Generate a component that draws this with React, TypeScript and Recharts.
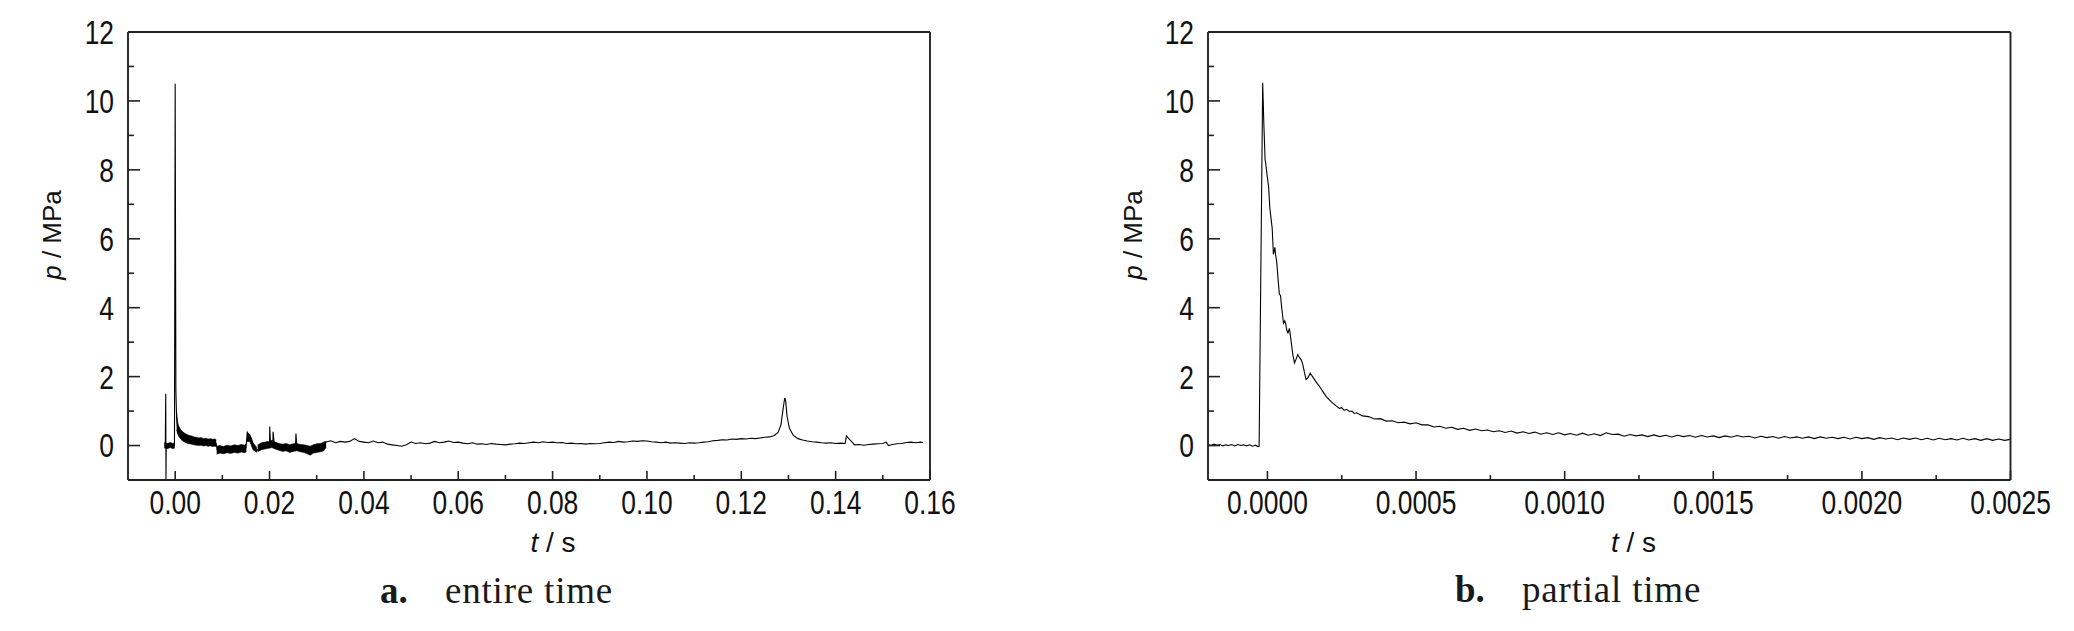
import React from "react";
import { ComposedChart, Line, Area, XAxis, YAxis } from "recharts";

// ---- panel a: entire time (time in ms, pressure in MPa) ----
const leftTimeMs = [
  -2.3, -2.1, -2.0, -1.95, -1.9, -1.5, -1.0, -0.5, -0.15, 0.0, 0.15, 0.3, 0.5, 0.8, 1.2, 2.0, 3.0, 4.5, 6.0, 7.5,
  8.7, 8.9, 10, 12, 14, 15.0, 15.3, 15.6, 16.0, 16.6, 17.3, 18.0, 19.0, 20.0, 20.05, 20.2, 20.7, 20.75, 21.0, 22,
  23, 24, 25.5, 25.6, 25.8, 27, 28.5, 29.5, 31, 32, 33, 34, 35, 36, 37, 38, 39, 40, 41, 42,
  43, 44, 45, 46, 47, 48, 49, 50, 51, 52, 53, 54, 55, 56, 57, 58, 59, 60, 61, 62,
  63, 64, 65, 66, 67, 68, 69, 70, 71, 72, 73, 74, 75, 76, 77, 78, 79, 80, 81, 82,
  83, 84, 85, 86, 87, 88, 89, 90, 91, 92, 93, 94, 95, 96, 97, 98, 99, 100, 101, 102,
  103, 104, 105, 106, 107, 108, 109, 110, 111, 112, 113, 114, 115, 116, 117, 118, 119, 120, 121, 122,
  123, 124, 125, 126, 127, 127.8, 128.4, 128.9, 129.2, 129.4, 129.7, 130.2, 131, 132, 133, 134, 135, 136, 137, 138,
  139, 140, 141, 142, 142.3, 142.8, 143.5, 144, 145, 146, 147, 148, 149, 150, 150.7, 151.2, 152, 153, 154, 155,
  156, 157, 158, 158.5,
];
const leftPressure = [
  0.0, 0.02, 1.5, -1.0, 0.0, 0.03, -0.02, 0.02, 0.0, 10.5, 1.6, 0.8, 0.55, 0.45, 0.36, 0.28, 0.2, 0.14, 0.1, 0.08,
  0.06, -0.12, -0.12, -0.1, -0.08, -0.05, 0.38, 0.3, 0.25, 0.0, -0.15, -0.05, 0.02, 0.0, 0.55, 0.05, 0.05, 0.4, 0.05, -0.05,
  0.0, -0.08, -0.05, 0.35, -0.05, -0.05, -0.15, -0.1, 0.0, 0.1, 0.14, 0.08, 0.12, 0.1, 0.12, 0.2, 0.12, 0.1, 0.08, 0.13,
  0.08, 0.1, 0.04, 0.02, 0.0, -0.02, 0.02, 0.1, 0.06, 0.08, 0.05, 0.07, 0.12, 0.08, 0.1, 0.13, 0.09, 0.1, 0.07, 0.05,
  0.08, 0.04, 0.05, 0.03, 0.06, 0.04, 0.03, 0.02, 0.04, 0.05, 0.07, 0.06, 0.08, 0.1, 0.08, 0.11, 0.09, 0.1, 0.08, 0.09,
  0.06, 0.07, 0.05, 0.06, 0.04, 0.06, 0.05, 0.06, 0.08, 0.1, 0.09, 0.12, 0.1, 0.11, 0.13, 0.12, 0.14, 0.13, 0.11, 0.1,
  0.08, 0.1, 0.07, 0.08, 0.07, 0.06, 0.08, 0.07, 0.08, 0.1, 0.11, 0.14, 0.15, 0.17, 0.16, 0.19, 0.18, 0.2, 0.19, 0.21,
  0.2, 0.22, 0.24, 0.25, 0.29, 0.38, 0.6, 1.1, 1.38, 1.3, 0.85, 0.5, 0.3, 0.2, 0.16, 0.13, 0.11, 0.1, 0.08, 0.07,
  0.08, 0.06, 0.07, 0.06, 0.28, 0.2, 0.1, 0.02, 0.03, 0.01, 0.03, 0.04, 0.05, 0.06, 0.1, 0.0, 0.03, 0.05, 0.06, 0.09,
  0.1, 0.08, 0.1, 0.09,
];
// noisy thick stretches, drawn as filled envelopes (null = break between stretches)
const leftBandMs = [
  -2.3, -1.7, -1.0, -0.5, -0.1, null,
  0.3, 0.5, 0.7, 1.0, 1.3, 1.6, 2.0, 2.5, 3.0, 3.5, 4.0, 4.5, 5.0, 5.5, 6.0, 6.5, 7.0, 7.5, 8.0, 8.4, 8.7, null,
  8.8, 9.5, 10.2, 11, 11.8, 12.5, 13.3, 14, 14.7, 15.1, null,
  15.2, 15.8, 16.5, 17.3, null,
  17.5, 18.3, 19, 19.8, 20.5, 21.2, 22, 22.8, 23.5, 24.3, 25, 25.8, 26.5, 27.3, 28, 28.6, 29.3, 30, 30.8, 31.5, 32,
];
const leftBandLo = [
  -0.07, -0.09, -0.06, -0.09, -0.07, null,
  0.45, 0.35, 0.28, 0.22, 0.17, 0.13, 0.1, 0.07, 0.05, 0.04, 0.02, 0.01, 0.0, 0.01, -0.01, 0.0, -0.02, -0.01, -0.03, -0.02, -0.03, null,
  -0.25, -0.22, -0.24, -0.21, -0.23, -0.2, -0.22, -0.19, -0.21, -0.18, null,
  0.12, 0.12, -0.12, -0.2, null,
  -0.18, -0.12, -0.1, -0.08, -0.06, -0.1, -0.14, -0.17, -0.15, -0.2, -0.17, -0.15, -0.18, -0.2, -0.24, -0.28, -0.22, -0.2, -0.18, -0.15, -0.05,
];
const leftBandHi = [
  0.08, 0.06, 0.09, 0.06, 0.08, null,
  1.0, 0.7, 0.58, 0.5, 0.44, 0.4, 0.36, 0.32, 0.29, 0.28, 0.25, 0.24, 0.22, 0.23, 0.2, 0.21, 0.19, 0.2, 0.18, 0.19, 0.17, null,
  -0.02, 0.0, -0.03, 0.01, -0.01, 0.02, 0.0, 0.03, 0.01, 0.05, null,
  0.38, 0.33, 0.08, -0.06, null,
  0.02, 0.08, 0.1, 0.12, 0.15, 0.1, 0.06, 0.04, 0.06, 0.02, 0.05, 0.06, 0.03, 0.02, 0.0, -0.02, 0.02, 0.05, 0.06, 0.1, 0.12,
];

const leftXMajor = [0, 0.02, 0.04, 0.06, 0.08, 0.1, 0.12, 0.14, 0.16];
const leftXMinor = [0.01, 0.03, 0.05, 0.07, 0.09, 0.11, 0.13, 0.15];

// ---- panel b: partial time (time in µs, pressure in MPa) ----
const rightTimeUs = [
  -200, -190, -180, -170, -160, -150, -140, -130, -120, -110, -100, -90, -80, -70, -60, -50, -40, -32, -28,
  -16, -12, -8, -6, -2, 4, 8, 12, 16, 20, 25, 28, 31, 36, 40, 44, 48, 54, 58, 61, 65, 69, 74, 80, 86, 91, 96,
  102, 108, 114, 119, 125, 130, 137, 144, 150, 158, 166, 175, 186, 198, 209, 220, 231, 242, 250, 258, 266, 276, 284, 292,
  300, 320, 340, 360, 380, 400, 420, 440, 460, 480, 500, 520, 540, 560, 580, 600, 620, 640, 660, 680,
  700, 720, 740, 760, 780, 800, 820, 840, 860, 880, 900, 920, 940, 960, 980, 1000, 1020, 1040, 1060, 1080,
  1100, 1120, 1140, 1160, 1180, 1200, 1220, 1240, 1260, 1280, 1300, 1320, 1340, 1360, 1380, 1400, 1420, 1440, 1460, 1480,
  1500, 1520, 1540, 1560, 1580, 1600, 1620, 1640, 1660, 1680, 1700, 1720, 1740, 1760, 1780, 1800, 1820, 1840, 1860, 1880,
  1900, 1920, 1940, 1960, 1980, 2000, 2020, 2040, 2060, 2080, 2100, 2120, 2140, 2160, 2180, 2200, 2220, 2240, 2260, 2280,
  2300, 2320, 2340, 2360, 2380, 2400, 2420, 2440, 2460, 2480, 2500,
];
const rightPressure = [
  0.03, 0.0, 0.04, 0.01, 0.03, -0.01, 0.02, 0.0, 0.03, -0.01, 0.03, 0.0, 0.02, -0.01, 0.02, -0.02, 0.01, -0.03, -0.02,
  10.53, 9.3, 8.3, 8.2, 7.9, 7.5, 6.9, 6.6, 6.3, 5.55, 5.75, 5.5, 5.35, 4.8, 4.4, 4.35, 4.0, 3.55, 3.62, 3.55, 3.35, 3.27, 3.4, 3.0, 2.6, 2.4, 2.5,
  2.64, 2.55, 2.48, 2.35, 2.1, 1.92, 1.98, 2.1, 2.02, 1.92, 1.82, 1.72, 1.57, 1.42, 1.32, 1.23, 1.15, 1.08, 1.1, 1.02, 1.05, 0.99, 1.0, 0.93,
  0.95, 0.86, 0.84, 0.77, 0.78, 0.71, 0.72, 0.66, 0.68, 0.63, 0.66, 0.6, 0.6, 0.54, 0.56, 0.5, 0.53, 0.47, 0.5, 0.44,
  0.48, 0.43, 0.45, 0.4, 0.43, 0.38, 0.42, 0.36, 0.4, 0.35, 0.39, 0.33, 0.37, 0.32, 0.37, 0.31, 0.35, 0.3, 0.36, 0.3,
  0.34, 0.29, 0.37, 0.32, 0.33, 0.27, 0.32, 0.28, 0.31, 0.26, 0.31, 0.26, 0.3, 0.25, 0.3, 0.26, 0.29, 0.24, 0.29, 0.25,
  0.28, 0.23, 0.28, 0.24, 0.29, 0.25, 0.27, 0.22, 0.27, 0.23, 0.26, 0.21, 0.26, 0.22, 0.25, 0.21, 0.25, 0.2, 0.25, 0.21,
  0.24, 0.2, 0.24, 0.19, 0.24, 0.2, 0.23, 0.18, 0.23, 0.19, 0.22, 0.17, 0.22, 0.18, 0.22, 0.17, 0.21, 0.16, 0.21, 0.17,
  0.2, 0.16, 0.21, 0.16, 0.2, 0.15, 0.2, 0.15, 0.19, 0.15, 0.18,
];

const rightXMajor = [0, 0.0005, 0.001, 0.0015, 0.002, 0.0025];
const rightXMinor = [0.00025, 0.00075, 0.00125, 0.00175, 0.00225];

const yMajor = [0, 2, 4, 6, 8, 10, 12];
const yMinor = [1, 3, 5, 7, 9, 11];

const AXIS = "#222";
const TEXT = "#111";
// narrow sans for the tick numbers: regular sans squeezed horizontally
const TICK_FONT = "'Liberation Sans', Arial, sans-serif";
const TICK_SIZE = 33;
const TICK_SQUEEZE = 0.8;
const TITLE_FONT = "'Liberation Sans', Arial, sans-serif";
const CAPTION_FONT = "'Liberation Serif', 'DejaVu Serif', serif";

const near = (list: number[], v: number) => list.some((m) => Math.abs(m - v) < 1e-9);

function lineRows(ts: number[], ps: number[], scale: number) {
  return ts.map((t, i) => ({ t: t * scale, p: ps[i] }));
}

function bandRows(ts: (number | null)[], lo: (number | null)[], hi: (number | null)[], scale: number) {
  const segs: { t: number; range: number[] }[][] = [];
  let cur: { t: number; range: number[] }[] = [];
  ts.forEach((t, i) => {
    if (t == null || lo[i] == null) {
      if (cur.length) segs.push(cur);
      cur = [];
    } else {
      cur.push({ t: t * scale, range: [lo[i] as number, hi[i] as number] });
    }
  });
  if (cur.length) segs.push(cur);
  return segs;
}

function XTick(props: any) {
  const { x, y, payload, majors, digits } = props;
  const major = near(majors, payload.value);
  return (
    <g>
      <line x1={x} x2={x} y1={y} y2={y - (major ? 9 : 5)} stroke={AXIS} strokeWidth={1.6} />
      {major && (
        <text
          transform={`translate(${x},${y + 34}) scale(${TICK_SQUEEZE},1)`}
          textAnchor="middle"
          fontFamily={TICK_FONT}
          fontSize={TICK_SIZE}
          fill={TEXT}
        >
          {payload.value.toFixed(digits)}
        </text>
      )}
    </g>
  );
}

function YTick(props: any) {
  const { x, y, payload } = props;
  const major = near(yMajor, payload.value);
  return (
    <g>
      <line x1={x} x2={x + (major ? 12 : 6)} y1={y} y2={y} stroke={AXIS} strokeWidth={1.6} />
      {major && (
        <text
          transform={`translate(${x - 14},${y}) scale(${TICK_SQUEEZE},1)`}
          dy="0.36em"
          textAnchor="end"
          fontFamily={TICK_FONT}
          fontSize={TICK_SIZE}
          fill={TEXT}
        >
          {payload.value}
        </text>
      )}
    </g>
  );
}

type PanelProps = {
  left: number;
  width: number;
  plotLeft: number;
  plotRight: number;
  xDomain: [number, number];
  xMajor: number[];
  xMinor: number[];
  digits: number;
  rows: { t: number; p: number }[];
  bands: { t: number; range: number[] }[][];
};

const PLOT_TOP = 32;
const PLOT_BOTTOM = 480;
const H = 631;

function Panel({ left, width, plotLeft, plotRight, xDomain, xMajor, xMinor, digits, rows, bands }: PanelProps) {
  const xTicks = [...xMajor, ...xMinor].sort((a, b) => a - b);
  const yTicks = [...yMajor, ...yMinor].sort((a, b) => a - b);
  const axisW = 60;
  const axisH = 60;
  return (
    <div style={{ position: "absolute", left, top: 0 }}>
      <ComposedChart
        width={width}
        height={H}
        margin={{
          top: PLOT_TOP - 1,
          right: width - plotRight - 1,
          bottom: H - PLOT_BOTTOM - axisH,
          left: plotLeft - axisW,
        }}
      >
        <XAxis
          dataKey="t"
          type="number"
          domain={xDomain}
          allowDataOverflow
          ticks={xTicks}
          interval={0}
          height={axisH}
          tickSize={0}
          tickMargin={0}
          tickLine={false}
          axisLine={{ stroke: AXIS, strokeWidth: 1.9 }}
          tick={(p: any) => <XTick {...p} majors={xMajor} digits={digits} />}
        />
        <XAxis xAxisId="top" orientation="top" type="number" domain={xDomain} allowDataOverflow height={1} tick={false} tickLine={false} axisLine={{ stroke: AXIS, strokeWidth: 1.9 }} />
        <YAxis
          type="number"
          domain={[-1, 12]}
          allowDataOverflow
          ticks={yTicks}
          interval={0}
          width={axisW}
          tickSize={0}
          tickMargin={0}
          tickLine={false}
          axisLine={{ stroke: AXIS, strokeWidth: 1.9 }}
          tick={(p: any) => <YTick {...p} />}
        />
        <YAxis yAxisId="right" orientation="right" type="number" domain={[-1, 12]} allowDataOverflow width={1} tick={false} tickLine={false} axisLine={{ stroke: AXIS, strokeWidth: 1.9 }} />
        {bands.map((seg, i) => (
          <Area
            key={i}
            data={seg}
            dataKey="range"
            type="linear"
            stroke="#000"
            strokeWidth={0.6}
            fill="#000"
            fillOpacity={1}
            dot={false}
            activeDot={false}
            isAnimationActive={false}
          />
        ))}
        <Line data={rows} dataKey="p" type="linear" stroke="#000" strokeWidth={1.1} dot={false} activeDot={false} isAnimationActive={false} />
      </ComposedChart>
    </div>
  );
}

export default function App() {
  const leftRows = lineRows(leftTimeMs, leftPressure, 0.001);
  const leftBands = bandRows(leftBandMs, leftBandLo, leftBandHi, 0.001);
  const rightRows = lineRows(rightTimeUs, rightPressure, 0.000001);

  return (
    <div style={{ position: "absolute", left: 0, top: 0, width: 2074, height: 631, background: "#fff", overflow: "hidden" }}>
      <Panel
        left={0}
        width={1000}
        plotLeft={128}
        plotRight={930}
        xDomain={[-0.01, 0.16]}
        xMajor={leftXMajor}
        xMinor={leftXMinor}
        digits={2}
        rows={leftRows}
        bands={leftBands}
      />
      <Panel
        left={1040}
        width={1034}
        plotLeft={168}
        plotRight={970.5}
        xDomain={[-0.0002, 0.0025]}
        xMajor={rightXMajor}
        xMinor={rightXMinor}
        digits={4}
        rows={rightRows}
        bands={[]}
      />
      <svg width={2074} height={631} style={{ position: "absolute", left: 0, top: 0, pointerEvents: "none" }}>
        {[0, 1080.5].map((dx) => (
          <g key={dx} fill={TEXT} fontFamily={TITLE_FONT} fontSize={26}>
            <text transform={`translate(${61 + dx},235) rotate(-90)`} textAnchor="middle">
              <tspan fontStyle="italic">p</tspan> / MPa
            </text>
            <text x={553 + dx} y={552} textAnchor="middle" fontSize={28}>
              <tspan fontStyle="italic">t</tspan> / s
            </text>
          </g>
        ))}
        <g fontFamily={CAPTION_FONT} fontSize={37} fill="#1a1a1a">
          <text x={380} y={603} fontWeight="bold">a.</text>
          <text x={445} y={603} letterSpacing={0.8}>entire time</text>
          <text x={1455} y={602} fontWeight="bold">b.</text>
          <text x={1522} y={602} letterSpacing={0.8}>partial time</text>
        </g>
      </svg>
    </div>
  );
}
